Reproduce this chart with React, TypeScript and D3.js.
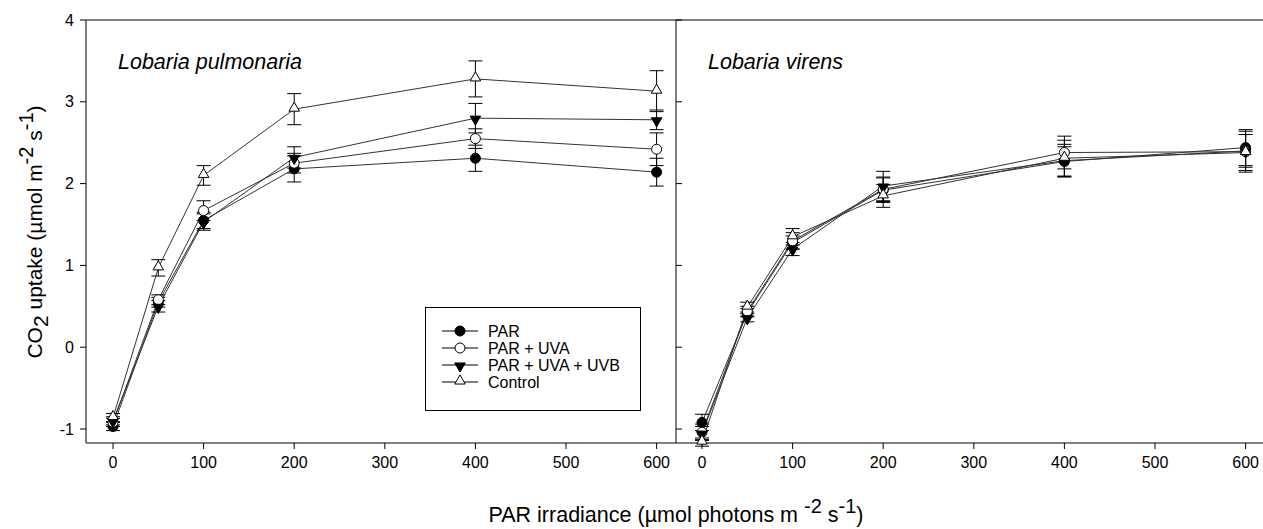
import React from "react";
import * as d3 from "d3";

const irradiance = [0, 50, 100, 200, 400, 600];
const xTicks = [0, 100, 200, 300, 400, 500, 600];
const yTicks = [-1, 0, 1, 2, 3, 4];
const seriesNames = ["PAR", "PAR + UVA", "PAR + UVA + UVB", "Control"];
const panelTitles = ["Lobaria pulmonaria", "Lobaria virens"];

// Lobaria pulmonaria
const pulPAR = [-0.97, 0.55, 1.55, 2.18, 2.31, 2.14];
const pulPARErr = [0.05, 0.06, 0.1, 0.16, 0.16, 0.17];
const pulUVA = [-0.92, 0.58, 1.67, 2.25, 2.55, 2.42];
const pulUVAErr = [0.05, 0.06, 0.12, 0.12, 0.12, 0.2];
const pulUVB = [-0.9, 0.5, 1.53, 2.32, 2.8, 2.78];
const pulUVBErr = [0.05, 0.07, 0.1, 0.13, 0.18, 0.12];
const pulCtrl = [-0.86, 0.97, 2.1, 2.91, 3.28, 3.13];
const pulCtrlErr = [0.05, 0.1, 0.12, 0.19, 0.22, 0.25];

// Lobaria virens
const virPAR = [-0.92, 0.42, 1.28, 1.92, 2.27, 2.44];
const virPARErr = [0.1, 0.05, 0.08, 0.15, 0.18, 0.22];
const virUVA = [-1.04, 0.44, 1.3, 1.93, 2.38, 2.39];
const virUVAErr = [0.1, 0.06, 0.1, 0.15, 0.2, 0.25];
const virUVB = [-1.05, 0.36, 1.2, 1.97, 2.28, 2.4];
const virUVBErr = [0.08, 0.05, 0.08, 0.18, 0.2, 0.2];
const virCtrl = [-1.16, 0.49, 1.35, 1.85, 2.31, 2.38];
const virCtrlErr = [0.05, 0.06, 0.1, 0.14, 0.22, 0.22];

const panels = [
  { title: panelTitles[0], values: [pulPAR, pulUVA, pulUVB, pulCtrl], errs: [pulPARErr, pulUVAErr, pulUVBErr, pulCtrlErr] },
  { title: panelTitles[1], values: [virPAR, virUVA, virUVB, virCtrl], errs: [virPARErr, virUVAErr, virUVBErr, virCtrlErr] },
];

const W = 1263;
const H = 529;
const FONT = "Liberation Sans, Arial, sans-serif";

const yScale = d3.scaleLinear().domain([-1, 4]).range([429, 20]);
const yBottom = 443;
const panelX = [
  { left: 86, right: 676, x0: 113 },
  { left: 676, right: 1263, x0: 702 },
];
const pxPer100 = 90.6;

function Marker({ kind, x, y }: { kind: number; x: number; y: number }) {
  if (kind === 0) return <circle cx={x} cy={y} r={5} fill="#000" stroke="#000" strokeWidth={1} />;
  if (kind === 1) return <circle cx={x} cy={y} r={5} fill="#fff" stroke="#000" strokeWidth={1} />;
  const sym = d3.symbol().type(d3.symbolTriangle).size(48)();
  if (kind === 2)
    return <path d={sym as string} transform={`translate(${x},${y + 1}) rotate(180)`} fill="#000" stroke="#000" strokeWidth={1} />;
  return <path d={sym as string} transform={`translate(${x},${y - 1})`} fill="#fff" stroke="#000" strokeWidth={1} />;
}

export default function App() {
  return (
    <svg width={W} height={H} style={{ position: "absolute", left: 0, top: 0, background: "#fff" }} fontFamily={FONT}>
      <rect x={0} y={0} width={W} height={H} fill="#fff" />
      {/* frame */}
      <line x1={86} x2={W} y1={20} y2={20} stroke="#000" strokeWidth={1} />
      <line x1={86} x2={W} y1={yBottom} y2={yBottom} stroke="#000" strokeWidth={1} />
      <line x1={86} x2={86} y1={20} y2={yBottom} stroke="#555" strokeWidth={1.5} />
      <line x1={676} x2={676} y1={20} y2={yBottom} stroke="#000" strokeWidth={1} />
      {/* y ticks */}
      {yTicks.map((t) => (
        <g key={"yt" + t}>
          <line x1={80} x2={86} y1={yScale(t)} y2={yScale(t)} stroke="#000" />
          <line x1={676} x2={682} y1={yScale(t)} y2={yScale(t)} stroke="#000" />
          <text x={74} y={yScale(t)} dy="0.35em" textAnchor="end" fontSize={16} fill="#000">{t}</text>
        </g>
      ))}
      {panels.map((p, pi) => {
        const px = panelX[pi];
        const xScale = d3.scaleLinear().domain([0, 600]).range([px.x0, px.x0 + pxPer100 * 6]);
        const line = d3
          .line<number>()
          .x((_, i) => xScale(irradiance[i]))
          .y((d) => yScale(d));
        return (
          <g key={"p" + pi}>
            {xTicks.map((t) => (
              <g key={"xt" + t}>
                <line x1={xScale(t)} x2={xScale(t)} y1={yBottom} y2={yBottom + 6} stroke="#000" />
                <text x={xScale(t)} y={yBottom + 25} textAnchor="middle" fontSize={16} fill="#000">{t}</text>
              </g>
            ))}
            <text x={px.left + 32} y={69} fontSize={21.5} fontStyle="italic" fill="#000">{p.title}</text>
            {p.values.map((vals, si) => (
              <path key={"l" + si} d={line(vals) as string} fill="none" stroke="#333" strokeWidth={1} />
            ))}
            {p.values.map((vals, si) => (
              <g key={"e" + si}>
                {vals.map((v, i) => {
                  const x = xScale(irradiance[i]);
                  const e = p.errs[si][i];
                  const y1 = yScale(v + e);
                  const y2 = yScale(v - e);
                  return (
                    <g key={i}>
                      <line x1={x} x2={x} y1={y1} y2={y2} stroke="#000" />
                      <line x1={x - 7} x2={x + 7} y1={y1} y2={y1} stroke="#000" />
                      <line x1={x - 7} x2={x + 7} y1={y2} y2={y2} stroke="#000" />
                    </g>
                  );
                })}
              </g>
            ))}
            {p.values.map((vals, si) => (
              <g key={"m" + si}>
                {vals.map((v, i) => (
                  <Marker key={i} kind={si} x={xScale(irradiance[i])} y={yScale(v)} />
                ))}
              </g>
            ))}
          </g>
        );
      })}
      {/* legend */}
      <rect x={425.5} y={307.5} width={215} height={103} fill="#fff" stroke="#000" strokeWidth={1} />
      {seriesNames.map((name, i) => {
        const y = 331 + i * 17;
        return (
          <g key={"lg" + i}>
            <line x1={442} x2={478} y1={y} y2={y} stroke="#000" />
            <Marker kind={i} x={460} y={y} />
            <text x={488} y={y} dy="0.36em" fontSize={16} fill="#000">{name}</text>
          </g>
        );
      })}
      {/* axis titles */}
      <text transform="translate(42,232) rotate(-90)" textAnchor="middle" fontSize={21} fill="#000">
        CO<tspan dy={6}>2</tspan>
        <tspan dy={-6}> uptake (µmol m</tspan>
        <tspan fontSize={20} dy={-9}>-2</tspan>
        <tspan dy={9}> s</tspan>
        <tspan fontSize={20} dy={-9}>-1</tspan>
        <tspan dy={9}>)</tspan>
      </text>
      <text x={676} y={522} textAnchor="middle" fontSize={21.5} fill="#000">
        PAR irradiance (µmol photons m <tspan fontSize={20} dy={-9}>-2</tspan>
        <tspan dy={9}> s</tspan>
        <tspan fontSize={20} dy={-9}>-1</tspan>
        <tspan dy={9}>)</tspan>
      </text>
    </svg>
  );
}
